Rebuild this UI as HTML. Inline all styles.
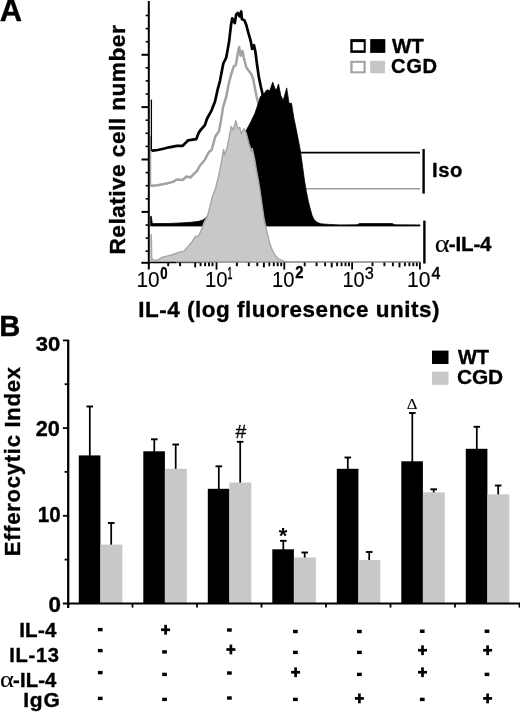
<!DOCTYPE html><html><head><meta charset="utf-8"><style>html,body{margin:0;padding:0;background:#fff;overflow:hidden}svg{display:block}text{font-family:"Liberation Sans",sans-serif;fill:#000}</style></head><body>
<svg width="520" height="713" viewBox="0 0 520 713">
<defs><filter id="bl" filterUnits="userSpaceOnUse" x="0" y="0" width="520" height="713" color-interpolation-filters="sRGB"><feGaussianBlur stdDeviation="0.5"/></filter></defs>
<rect width="520" height="713" fill="#fff"/>
<g filter="url(#bl)">
<rect x="-5" y="-5" width="530" height="723" fill="#fff"/>
<polyline points="151.6,150.5 152.9,150.6 157.7,150.0 163.5,148.7 169.2,147.3 176.9,145.8 182.7,145.8 185.6,142.9 188.1,140.3 196.2,139.2 198.5,133.3 200.2,130.5 204.9,125.1 206.9,119.0 211.6,110.3 215.0,101.5 217.7,89.4 220.0,80.8 223.3,63.5 226.2,57.7 229.0,42.3 231.0,25.0 232.3,18.3 234.8,23.0 236.2,14.4 237.7,13.0 239.6,16.3 241.2,11.5 241.9,19.2 244.4,20.2 246.3,25.0 248.3,32.7 250.8,41.3 252.1,49.0 254.0,45.2 255.4,51.9 256.9,63.5 258.8,76.9 260.8,86.5 263.1,96.2 266.0,105.0 272.0,125.0 285.0,148.0 300.0,152.7" fill="none" stroke="#000" stroke-width="2.7" stroke-linejoin="round"/>
<polyline points="150.8,185.8 151.9,185.8 157.7,185.2 165.4,183.8 173.1,181.9 176.9,179.4 182.7,180.0 186.5,176.5 190.4,177.5 194.2,173.7 197.1,170.8 200.0,165.5 204.8,160.0 208.7,152.3 211.6,150.0 215.3,136.5 219.0,131.1 221.0,120.4 223.1,106.9 226.4,96.2 228.5,84.6 231.0,75.0 233.8,66.3 235.8,65.4 237.7,53.8 239.2,47.1 240.6,55.8 242.5,51.0 243.8,57.7 246.3,67.3 248.3,70.2 251.2,74.0 253.1,78.8 255.0,88.5 256.5,96.2 258.0,102.0 262.0,125.0 270.0,160.0 285.0,182.0 306.0,188.6" fill="none" stroke="#a2a2a2" stroke-width="2.5" stroke-linejoin="round"/>
<line x1="296" y1="152.6" x2="420" y2="152.6" stroke="#000" stroke-width="1.7"/>
<line x1="300" y1="188.7" x2="420" y2="188.7" stroke="#9c9c9c" stroke-width="1.6"/>
<polygon points="150.6,226.0 150.6,216.3 151.3,216.3 152.3,223.6 168.0,223.5 180.0,223.0 191.0,222.3 199.0,221.3 203.0,219.9 205.0,218.6 207.6,215.9 208.6,213.5 215.0,195.0 225.0,170.0 235.0,150.0 245.8,131.2 251.0,121.5 254.8,113.5 258.5,103.0 260.4,96.5 264.0,93.7 266.9,89.8 269.8,90.8 272.7,82.1 275.0,88.8 276.5,89.8 278.5,84.0 280.8,95.6 283.3,100.4 286.7,87.9 289.0,103.3 291.5,103.3 293.8,117.7 295.8,127.3 297.7,136.9 299.6,146.5 300.6,152.3 302.5,166.0 304.4,180.0 306.3,191.5 308.3,201.2 310.2,208.8 312.1,215.6 314.0,219.4 316.9,222.3 320.8,223.8 328.5,224.4 340.0,224.9 357.0,224.8 359.5,223.6 392.0,223.6 395.0,224.8 420.0,224.9 420.0,226.0" fill="#000" stroke="#000" stroke-width="0.8" stroke-linejoin="round"/>
<polygon points="151.1,261.7 151.1,234.8 151.3,234.8 151.7,257.9 152.6,259.9 157.1,260.3 159.5,258.8 162.5,257.2 167.9,255.9 173.3,254.5 178.6,252.5 184.0,251.1 188.1,246.4 192.1,241.7 195.5,236.5 198.8,235.7 201.5,229.5 204.3,221.9 207.5,216.3 209.8,207.5 212.1,197.3 214.0,192.5 215.4,188.8 219.2,173.5 222.1,158.1 223.5,149.4 224.6,155.2 227.5,146.0 231.2,126.4 233.3,130.0 235.8,120.8 237.8,128.5 239.8,127.5 241.3,134.0 243.9,128.7 246.2,133.0 249.0,143.7 251.5,151.3 252.3,148.5 254.8,160.0 256.7,171.5 258.5,181.0 260.2,191.5 262.1,205.0 264.0,218.5 266.0,228.0 267.9,235.8 269.8,243.5 272.7,251.2 275.6,256.0 278.5,258.8 282.3,260.6 286.0,261.6" fill="#c8c8c8" stroke="#a6a6a6" stroke-width="1.4" stroke-linejoin="round"/>
<line x1="150.5" y1="136" x2="150.5" y2="186.5" stroke="#a2a2a2" stroke-width="1.5"/>
<line x1="151.4" y1="99.6" x2="151.4" y2="151" stroke="#000" stroke-width="1.3"/>
<line x1="148.8" y1="1.0" x2="148.8" y2="269.5" stroke="#000" stroke-width="2"/>
<line x1="141.3" y1="262.8" x2="150" y2="262.8" stroke="#000" stroke-width="2"/>
<line x1="149" y1="262.6" x2="176" y2="262.6" stroke="#000" stroke-width="1.3"/>
<line x1="176" y1="262.6" x2="200" y2="262.6" stroke="#555" stroke-width="1.2"/>
<line x1="200" y1="262.5" x2="287" y2="262.5" stroke="#a0a0a0" stroke-width="1.1"/>
<line x1="286" y1="262.1" x2="420.8" y2="262.1" stroke="#858585" stroke-width="1.5"/>
<g stroke="#000" stroke-width="1.6">
<line x1="145.6" y1="15.5" x2="148" y2="15.5"/>
<line x1="145.6" y1="28.6" x2="148" y2="28.6"/>
<line x1="145.6" y1="41.7" x2="148" y2="41.7"/>
<line x1="141.5" y1="54.8" x2="148" y2="54.8" stroke-width="2"/>
<line x1="145.6" y1="67.8" x2="148" y2="67.8"/>
<line x1="145.6" y1="80.9" x2="148" y2="80.9"/>
<line x1="145.6" y1="94.0" x2="148" y2="94.0"/>
<line x1="141.5" y1="107.1" x2="148" y2="107.1" stroke-width="2"/>
<line x1="145.6" y1="120.2" x2="148" y2="120.2"/>
<line x1="145.6" y1="133.3" x2="148" y2="133.3"/>
<line x1="145.6" y1="146.4" x2="148" y2="146.4"/>
<line x1="141.5" y1="159.5" x2="148" y2="159.5" stroke-width="2"/>
<line x1="145.6" y1="172.6" x2="148" y2="172.6"/>
<line x1="145.6" y1="185.7" x2="148" y2="185.7"/>
<line x1="145.6" y1="198.8" x2="148" y2="198.8"/>
<line x1="141.5" y1="211.9" x2="148" y2="211.9" stroke-width="2"/>
<line x1="145.6" y1="225.0" x2="148" y2="225.0"/>
<line x1="145.6" y1="238.1" x2="148" y2="238.1"/>
<line x1="145.6" y1="251.2" x2="148" y2="251.2"/>
<line x1="168.2" y1="262.6" x2="168.2" y2="266.2" stroke-width="1.9"/>
<line x1="180.1" y1="262.6" x2="180.1" y2="266.2" stroke-width="1.9"/>
<line x1="195.2" y1="262.6" x2="195.2" y2="267.4" stroke-width="1.9"/>
<line x1="200.6" y1="262.6" x2="200.6" y2="266.2" stroke-width="1.9"/>
<line x1="205.1" y1="262.6" x2="205.1" y2="266.2" stroke-width="1.9"/>
<line x1="209.0" y1="262.6" x2="209.0" y2="266.2" stroke-width="1.9"/>
<line x1="212.5" y1="262.6" x2="212.5" y2="266.2" stroke-width="1.9"/>
<line x1="216.5" y1="262.4" x2="216.5" y2="269.6" stroke-width="1.8"/>
<line x1="236.9" y1="262.6" x2="236.9" y2="266.2" stroke-width="1.9"/>
<line x1="248.8" y1="262.6" x2="248.8" y2="266.2" stroke-width="1.9"/>
<line x1="257.3" y1="262.6" x2="257.3" y2="266.2" stroke-width="1.9"/>
<line x1="263.9" y1="262.6" x2="263.9" y2="267.4" stroke-width="1.9"/>
<line x1="269.3" y1="262.6" x2="269.3" y2="266.2" stroke-width="1.9"/>
<line x1="273.8" y1="262.6" x2="273.8" y2="266.2" stroke-width="1.9"/>
<line x1="277.7" y1="262.6" x2="277.7" y2="266.2" stroke-width="1.9"/>
<line x1="281.2" y1="262.6" x2="281.2" y2="266.2" stroke-width="1.9"/>
<line x1="284.3" y1="262.4" x2="284.3" y2="269.6" stroke-width="1.8"/>
<line x1="304.7" y1="262.6" x2="304.7" y2="266.2" stroke-width="1.9"/>
<line x1="316.6" y1="262.6" x2="316.6" y2="266.2" stroke-width="1.9"/>
<line x1="325.1" y1="262.6" x2="325.1" y2="266.2" stroke-width="1.9"/>
<line x1="331.7" y1="262.6" x2="331.7" y2="267.4" stroke-width="1.9"/>
<line x1="337.1" y1="262.6" x2="337.1" y2="266.2" stroke-width="1.9"/>
<line x1="341.6" y1="262.6" x2="341.6" y2="266.2" stroke-width="1.9"/>
<line x1="345.5" y1="262.6" x2="345.5" y2="266.2" stroke-width="1.9"/>
<line x1="349.0" y1="262.6" x2="349.0" y2="266.2" stroke-width="1.9"/>
<line x1="352.1" y1="262.4" x2="352.1" y2="269.6" stroke-width="1.8"/>
<line x1="372.5" y1="262.6" x2="372.5" y2="266.2" stroke-width="1.9"/>
<line x1="384.4" y1="262.6" x2="384.4" y2="266.2" stroke-width="1.9"/>
<line x1="392.9" y1="262.6" x2="392.9" y2="266.2" stroke-width="1.9"/>
<line x1="399.5" y1="262.6" x2="399.5" y2="267.4" stroke-width="1.9"/>
<line x1="404.9" y1="262.6" x2="404.9" y2="266.2" stroke-width="1.9"/>
<line x1="409.4" y1="262.6" x2="409.4" y2="266.2" stroke-width="1.9"/>
<line x1="413.3" y1="262.6" x2="413.3" y2="266.2" stroke-width="1.9"/>
<line x1="416.8" y1="262.6" x2="416.8" y2="266.2" stroke-width="1.9"/>
<line x1="419.9" y1="262.4" x2="419.9" y2="269.6" stroke-width="1.8"/>
</g>
<rect x="350.3" y="39.1" width="15.4" height="13.8" fill="#000"/>
<rect x="352.7" y="42.1" width="11.0" height="8.2" fill="#fff"/>
<rect x="370.2" y="39.1" width="15.1" height="13.8" fill="#000"/>
<rect x="350.3" y="60.8" width="15.4" height="12.5" fill="#a2a2a2"/>
<rect x="352.6" y="62.8" width="10.9" height="8.5" fill="#fff"/>
<rect x="370.2" y="60.8" width="14.8" height="12.5" fill="#c6c6c6"/>
<line x1="423.6" y1="149" x2="423.6" y2="193.6" stroke="#000" stroke-width="2.4"/>
<line x1="424.4" y1="220.6" x2="424.4" y2="263.6" stroke="#000" stroke-width="2.4"/>
<line x1="89.8" y1="406.5" x2="89.8" y2="456.4" stroke="#000" stroke-width="1.75"/>
<line x1="86.5" y1="406.5" x2="93.1" y2="406.5" stroke="#000" stroke-width="1.9"/>
<line x1="111.2" y1="523.0" x2="111.2" y2="545.6" stroke="#000" stroke-width="1.75"/>
<line x1="107.9" y1="523.0" x2="114.5" y2="523.0" stroke="#000" stroke-width="1.9"/>
<rect x="78.8" y="455.4" width="21.6" height="148.1" fill="#000"/>
<rect x="100.4" y="544.6" width="21.9" height="58.9" fill="#c8c8c8"/>
<line x1="154.3" y1="439.3" x2="154.3" y2="452.3" stroke="#000" stroke-width="1.75"/>
<line x1="151.0" y1="439.3" x2="157.6" y2="439.3" stroke="#000" stroke-width="1.9"/>
<line x1="175.7" y1="444.5" x2="175.7" y2="469.8" stroke="#000" stroke-width="1.75"/>
<line x1="172.4" y1="444.5" x2="179.0" y2="444.5" stroke="#000" stroke-width="1.9"/>
<rect x="143.3" y="451.3" width="21.6" height="152.2" fill="#000"/>
<rect x="164.9" y="468.8" width="21.9" height="134.7" fill="#c8c8c8"/>
<line x1="218.8" y1="466.3" x2="218.8" y2="489.8" stroke="#000" stroke-width="1.75"/>
<line x1="215.5" y1="466.3" x2="222.1" y2="466.3" stroke="#000" stroke-width="1.9"/>
<line x1="240.2" y1="441.8" x2="240.2" y2="483.5" stroke="#000" stroke-width="1.75"/>
<line x1="236.9" y1="441.8" x2="243.5" y2="441.8" stroke="#000" stroke-width="1.9"/>
<rect x="207.8" y="488.8" width="21.6" height="114.7" fill="#000"/>
<rect x="229.4" y="482.5" width="21.9" height="121.0" fill="#c8c8c8"/>
<line x1="283.3" y1="540.8" x2="283.3" y2="550.3" stroke="#000" stroke-width="1.75"/>
<line x1="280.0" y1="540.8" x2="286.6" y2="540.8" stroke="#000" stroke-width="1.9"/>
<line x1="304.7" y1="552.5" x2="304.7" y2="558.5" stroke="#000" stroke-width="1.75"/>
<line x1="301.4" y1="552.5" x2="308.0" y2="552.5" stroke="#000" stroke-width="1.9"/>
<rect x="272.3" y="549.3" width="21.6" height="54.2" fill="#000"/>
<rect x="293.9" y="557.5" width="21.9" height="46.0" fill="#c8c8c8"/>
<line x1="347.8" y1="457.5" x2="347.8" y2="469.8" stroke="#000" stroke-width="1.75"/>
<line x1="344.5" y1="457.5" x2="351.1" y2="457.5" stroke="#000" stroke-width="1.9"/>
<line x1="369.2" y1="552.0" x2="369.2" y2="561.0" stroke="#000" stroke-width="1.75"/>
<line x1="365.9" y1="552.0" x2="372.5" y2="552.0" stroke="#000" stroke-width="1.9"/>
<rect x="336.8" y="468.8" width="21.6" height="134.7" fill="#000"/>
<rect x="358.4" y="560.0" width="21.9" height="43.5" fill="#c8c8c8"/>
<line x1="412.3" y1="413.0" x2="412.3" y2="462.3" stroke="#000" stroke-width="1.75"/>
<line x1="409.0" y1="413.0" x2="415.6" y2="413.0" stroke="#000" stroke-width="1.9"/>
<line x1="433.7" y1="489.3" x2="433.7" y2="493.3" stroke="#000" stroke-width="1.75"/>
<line x1="430.4" y1="489.3" x2="437.0" y2="489.3" stroke="#000" stroke-width="1.9"/>
<rect x="401.3" y="461.3" width="21.6" height="142.2" fill="#000"/>
<rect x="422.9" y="492.3" width="21.9" height="111.2" fill="#c8c8c8"/>
<line x1="476.8" y1="426.8" x2="476.8" y2="449.8" stroke="#000" stroke-width="1.75"/>
<line x1="473.5" y1="426.8" x2="480.1" y2="426.8" stroke="#000" stroke-width="1.9"/>
<line x1="498.2" y1="485.5" x2="498.2" y2="495.3" stroke="#000" stroke-width="1.75"/>
<line x1="494.9" y1="485.5" x2="501.5" y2="485.5" stroke="#000" stroke-width="1.9"/>
<rect x="465.8" y="448.8" width="21.6" height="154.7" fill="#000"/>
<rect x="487.4" y="494.3" width="21.9" height="109.2" fill="#c8c8c8"/>
<line x1="68.2" y1="339.7" x2="68.2" y2="608.0" stroke="#000" stroke-width="2.3"/>
<line x1="62.9" y1="603.5" x2="520" y2="603.5" stroke="#000" stroke-width="2.2"/>
<g stroke="#000" stroke-width="1.8">
<line x1="64.6" y1="559.6" x2="68" y2="559.6"/>
<line x1="62.9" y1="515.8" x2="68" y2="515.8"/>
<line x1="64.6" y1="471.9" x2="68" y2="471.9"/>
<line x1="62.9" y1="428.1" x2="68" y2="428.1"/>
<line x1="64.6" y1="384.2" x2="68" y2="384.2"/>
<line x1="62.9" y1="340.4" x2="68" y2="340.4"/>
<line x1="132.5" y1="603.5" x2="132.5" y2="607.6"/>
<line x1="197.0" y1="603.5" x2="197.0" y2="607.6"/>
<line x1="261.5" y1="603.5" x2="261.5" y2="607.6"/>
<line x1="326.0" y1="603.5" x2="326.0" y2="607.6"/>
<line x1="390.5" y1="603.5" x2="390.5" y2="607.6"/>
<line x1="455.0" y1="603.5" x2="455.0" y2="607.6"/>
<line x1="519.5" y1="603.5" x2="519.5" y2="607.6"/>
</g>
<rect x="432" y="350.6" width="16.5" height="13.4" fill="#000"/>
<rect x="432" y="371.6" width="16.5" height="13.2" fill="#c8c8c8"/>
<rect x="97.90" y="627.90" width="4.7" height="3.4" fill="#000"/>
<rect x="97.90" y="648.90" width="4.7" height="3.4" fill="#000"/>
<rect x="97.90" y="670.90" width="4.7" height="3.4" fill="#000"/>
<rect x="97.90" y="696.70" width="4.7" height="3.4" fill="#000"/>
<rect x="161.10" y="628.40" width="9.0" height="2.7" fill="#000"/>
<rect x="164.25" y="624.85" width="2.7" height="9.8" fill="#000"/>
<rect x="162.15" y="650.20" width="4.7" height="3.4" fill="#000"/>
<rect x="162.15" y="672.70" width="4.7" height="3.4" fill="#000"/>
<rect x="162.15" y="697.70" width="4.7" height="3.4" fill="#000"/>
<rect x="227.05" y="628.30" width="4.7" height="3.4" fill="#000"/>
<rect x="226.40" y="648.15" width="9.0" height="2.7" fill="#000"/>
<rect x="229.55" y="644.60" width="2.7" height="9.8" fill="#000"/>
<rect x="227.05" y="671.30" width="4.7" height="3.4" fill="#000"/>
<rect x="227.05" y="696.30" width="4.7" height="3.4" fill="#000"/>
<rect x="293.05" y="629.80" width="4.7" height="3.4" fill="#000"/>
<rect x="293.05" y="650.70" width="4.7" height="3.4" fill="#000"/>
<rect x="291.10" y="670.90" width="9.0" height="2.7" fill="#000"/>
<rect x="294.25" y="667.35" width="2.7" height="9.8" fill="#000"/>
<rect x="293.05" y="697.70" width="4.7" height="3.4" fill="#000"/>
<rect x="357.05" y="629.80" width="4.7" height="3.4" fill="#000"/>
<rect x="357.05" y="650.70" width="4.7" height="3.4" fill="#000"/>
<rect x="357.05" y="672.70" width="4.7" height="3.4" fill="#000"/>
<rect x="354.90" y="697.05" width="9.0" height="2.7" fill="#000"/>
<rect x="358.05" y="693.50" width="2.7" height="9.8" fill="#000"/>
<rect x="419.90" y="629.55" width="4.7" height="3.4" fill="#000"/>
<rect x="418.00" y="648.90" width="9.0" height="2.7" fill="#000"/>
<rect x="421.15" y="645.35" width="2.7" height="9.8" fill="#000"/>
<rect x="418.00" y="670.90" width="9.0" height="2.7" fill="#000"/>
<rect x="421.15" y="667.35" width="2.7" height="9.8" fill="#000"/>
<rect x="419.90" y="697.70" width="4.7" height="3.4" fill="#000"/>
<rect x="484.65" y="629.55" width="4.7" height="3.4" fill="#000"/>
<rect x="483.10" y="648.90" width="9.0" height="2.7" fill="#000"/>
<rect x="486.25" y="645.35" width="2.7" height="9.8" fill="#000"/>
<rect x="484.65" y="672.70" width="4.7" height="3.4" fill="#000"/>
<rect x="483.10" y="697.05" width="9.0" height="2.7" fill="#000"/>
<rect x="486.25" y="693.50" width="2.7" height="9.8" fill="#000"/>
<g stroke="#000" stroke-width="0.35" stroke-linejoin="round">
<text transform="translate(-0.33,21.30) scale(0.992,1)" font-size="31.16" font-weight="bold" style="font-family:'Liberation Sans';letter-spacing:0.000px">A</text>
<text transform="translate(-0.84,335.60) scale(0.987,1)" font-size="29.57" font-weight="bold" style="font-family:'Liberation Sans';letter-spacing:0.000px">B</text>
<text transform="translate(125.00,254.49) rotate(-90) scale(1.000,1)" font-size="22.75" font-weight="bold" style="font-family:'Liberation Sans';letter-spacing:0.419px">Relative cell number</text>
<text transform="translate(138.33,316.90) scale(1.000,1)" font-size="22.46" font-weight="bold" style="font-family:'Liberation Sans';letter-spacing:0.523px">IL-4 (log fluoresence units)</text>
<text transform="translate(20.40,556.24) rotate(-90) scale(1.000,1)" font-size="22.03" font-weight="bold" style="font-family:'Liberation Sans';letter-spacing:0.738px">Efferocytic Index</text>
<text transform="translate(391.90,52.60) scale(0.997,1)" font-size="20.58" font-weight="bold" style="font-family:'Liberation Sans';letter-spacing:0.000px">WT</text>
<text transform="translate(391.09,72.60) scale(1.000,1)" font-size="20.14" font-weight="bold" style="font-family:'Liberation Sans';letter-spacing:0.645px">CGD</text>
<text transform="translate(432.08,177.00) scale(1.000,1)" font-size="20.29" font-weight="bold" style="font-family:'Liberation Sans';letter-spacing:0.556px">Iso</text>
<text transform="translate(448.78,251.30) scale(1.000,1)" font-size="20.58" font-weight="bold" style="font-family:'Liberation Sans';letter-spacing:-0.175px">-IL-4</text>
<text stroke-width="0.1" transform="translate(434.66,251.76) scale(1.168,1)" font-size="24.37" font-weight="normal" style="font-family:'Liberation Serif'">α</text>
<text transform="translate(457.90,364.20) scale(0.961,1)" font-size="20.87" font-weight="bold" style="font-family:'Liberation Sans';letter-spacing:0.000px">WT</text>
<text transform="translate(457.07,384.00) scale(1.000,1)" font-size="20.87" font-weight="bold" style="font-family:'Liberation Sans';letter-spacing:-0.180px">CGD</text>
<text transform="translate(35.86,351.40) scale(1.055,1)" font-size="20.86" font-weight="bold" style="font-family:'Liberation Sans';letter-spacing:0.000px">30</text>
<text transform="translate(35.65,436.00) scale(0.994,1)" font-size="21.86" font-weight="bold" style="font-family:'Liberation Sans';letter-spacing:0.000px">20</text>
<text transform="translate(37.76,521.90) scale(0.936,1)" font-size="22.00" font-weight="bold" style="font-family:'Liberation Sans';letter-spacing:0.000px">10</text>
<text transform="translate(48.41,611.70) scale(1.050,1)" font-size="21.29" font-weight="bold" style="font-family:'Liberation Sans';letter-spacing:0.000px">0</text>
<text transform="translate(19.16,637.00) scale(1.000,1)" font-size="20.58" font-weight="bold" style="font-family:'Liberation Sans';letter-spacing:0.238px">IL-4</text>
<text transform="translate(9.29,661.70) scale(1.000,1)" font-size="20.14" font-weight="bold" style="font-family:'Liberation Sans';letter-spacing:0.694px">IL-13</text>
<text transform="translate(13.09,686.60) scale(1.000,1)" font-size="20.29" font-weight="bold" style="font-family:'Liberation Sans';letter-spacing:0.100px">-IL-4</text>
<text stroke-width="0.1" transform="translate(0.05,687.17) scale(1.169,1)" font-size="22.50" font-weight="normal" style="font-family:'Liberation Serif'">α</text>
<text transform="translate(23.23,707.40) scale(1.043,1)" font-size="20.14" font-weight="bold" style="font-family:'Liberation Sans';letter-spacing:0.750px">IgG</text>
<text stroke-width="0.3" transform="translate(235.50,437.80) scale(1.057,1)" font-size="18.24" font-weight="normal" style="font-family:'Liberation Sans';letter-spacing:0.000px">#</text>
<text stroke-width="0" transform="translate(278.70,543.01) scale(1.007,1)" font-size="21.89" font-weight="bold" style="font-family:'Liberation Sans'">*</text>
<text stroke-width="0.1" transform="translate(406.83,409.30) scale(1.183,1)" font-size="14.09" font-weight="normal" style="font-family:'Liberation Serif';letter-spacing:0.000px">Δ</text>
<text stroke-width="0.1" transform="translate(136.54,286.80) scale(0.978,1)" font-size="21.29" font-weight="normal" style="font-family:'Liberation Sans';letter-spacing:0.000px">10</text>
<text transform="translate(160.27,278.54) scale(0.844,1)" font-size="15.63" font-weight="bold" style="font-family:'Liberation Sans'">0</text>
<text stroke-width="0.1" transform="translate(205.08,286.80) scale(0.954,1)" font-size="21.29" font-weight="normal" style="font-family:'Liberation Sans';letter-spacing:0.000px">10</text>
<text stroke-width="0.5" transform="translate(227.59,278.70) scale(0.526,1)" font-size="16.81" font-weight="normal" style="font-family:'Liberation Sans'">1</text>
<text stroke-width="0.1" transform="translate(271.98,286.80) scale(0.949,1)" font-size="21.29" font-weight="normal" style="font-family:'Liberation Sans';letter-spacing:0.000px">10</text>
<text transform="translate(295.35,278.30) scale(0.948,1)" font-size="15.71" font-weight="bold" style="font-family:'Liberation Sans'">2</text>
<text stroke-width="0.1" transform="translate(342.51,286.80) scale(0.935,1)" font-size="21.29" font-weight="normal" style="font-family:'Liberation Sans';letter-spacing:0.000px">10</text>
<text stroke-width="0.3" transform="translate(364.64,278.83) scale(0.977,1)" font-size="16.76" font-weight="normal" style="font-family:'Liberation Sans'">3</text>
<text stroke-width="0.1" transform="translate(407.01,286.80) scale(0.992,1)" font-size="21.29" font-weight="normal" style="font-family:'Liberation Sans';letter-spacing:0.000px">10</text>
<text stroke-width="0.55" transform="translate(431.38,278.87) scale(0.943,1)" font-size="17.06" font-weight="normal" style="font-family:'Liberation Sans'">4</text>
</g>
</g>
</svg></body></html>
